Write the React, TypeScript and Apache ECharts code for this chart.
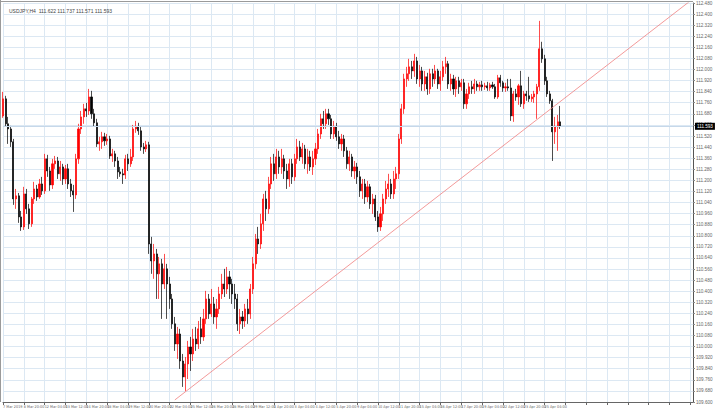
import React, { useEffect, useRef } from "react";
import * as echarts from "echarts";

const SYMBOL = "USDJPY,H4";

const openP = [
  111.665,111.788,111.608,111.571,111.478,111.066,111.088,110.936,110.864,111.102,
  110.994,110.886,111.066,111.138,111.080,111.174,111.124,111.355,111.268,111.167,
  111.319,111.340,111.247,111.297,111.210,111.283,111.174,111.124,111.095,111.355,
  111.571,111.658,111.716,111.701,111.802,111.680,111.615,111.463,111.478,111.514,
  111.485,111.499,111.376,111.391,111.340,111.261,111.247,111.239,111.355,111.319,
  111.369,111.571,111.586,111.557,111.441,111.427,111.456,110.741,110.618,110.669,
  110.525,110.597,110.452,110.561,110.452,110.344,110.164,110.019,110.091,109.896,
  109.781,109.875,109.997,109.947,110.055,110.019,110.128,110.070,110.200,110.344,
  110.236,110.308,110.214,110.272,110.380,110.452,110.416,110.503,110.452,110.380,
  110.344,110.164,110.214,110.185,110.272,110.236,110.416,110.597,110.777,110.741,
  110.886,111.066,110.994,111.174,111.319,111.247,111.369,111.297,111.355,111.268,
  111.210,111.319,111.225,111.355,111.441,111.369,111.427,111.319,111.369,111.297,
  111.355,111.427,111.535,111.644,111.608,111.680,111.644,111.535,111.586,111.514,
  111.463,111.499,111.413,111.319,111.369,111.268,111.297,111.225,111.124,111.174,
  111.080,111.153,111.030,111.066,110.936,110.864,110.958,111.066,111.138,111.174,
  111.102,111.210,111.247,111.499,111.716,111.932,111.969,112.019,111.990,112.062,
  111.932,111.990,111.896,111.947,111.860,111.969,111.932,111.990,111.896,111.947,
  112.019,112.041,111.896,111.932,111.860,111.918,111.875,111.904,111.752,111.824,
  111.875,111.860,111.896,111.875,111.889,111.875,111.882,111.867,111.889,111.875,
  111.802,111.940,111.904,111.867,111.875,111.867,111.665,111.824,111.802,111.882,
  111.752,111.824,111.810,111.788,111.802,111.824,111.875,112.149,112.077,111.918,
  111.824,111.774,111.550,111.586,111.622,
];

const closeP = [
  111.788,111.608,111.571,111.478,111.066,111.088,110.936,110.864,111.102,110.994,
  110.886,111.066,111.138,111.080,111.174,111.124,111.355,111.268,111.167,111.319,
  111.340,111.247,111.297,111.210,111.283,111.174,111.124,111.095,111.355,111.571,
  111.658,111.716,111.701,111.802,111.680,111.615,111.463,111.478,111.514,111.485,
  111.499,111.376,111.391,111.340,111.261,111.247,111.239,111.355,111.319,111.369,
  111.571,111.586,111.557,111.441,111.427,111.456,110.741,110.618,110.669,110.525,
  110.597,110.452,110.561,110.452,110.344,110.164,110.019,110.091,109.896,109.781,
  109.875,109.997,109.947,110.055,110.019,110.128,110.070,110.200,110.344,110.236,
  110.308,110.214,110.272,110.380,110.452,110.416,110.503,110.452,110.380,110.344,
  110.164,110.214,110.185,110.272,110.236,110.416,110.597,110.777,110.741,110.886,
  111.066,110.994,111.174,111.319,111.247,111.369,111.297,111.355,111.268,111.210,
  111.319,111.225,111.355,111.441,111.369,111.427,111.319,111.369,111.297,111.355,
  111.427,111.535,111.644,111.608,111.680,111.644,111.535,111.586,111.514,111.463,
  111.499,111.413,111.319,111.369,111.268,111.297,111.225,111.124,111.174,111.080,
  111.153,111.030,111.066,110.936,110.864,110.958,111.066,111.138,111.174,111.102,
  111.210,111.247,111.499,111.716,111.932,111.969,112.019,111.990,112.062,111.932,
  111.990,111.896,111.947,111.860,111.969,111.932,111.990,111.896,111.947,112.019,
  112.041,111.896,111.932,111.860,111.918,111.875,111.904,111.752,111.824,111.875,
  111.860,111.896,111.875,111.889,111.875,111.882,111.867,111.889,111.875,111.802,
  111.940,111.904,111.867,111.875,111.867,111.665,111.824,111.802,111.882,111.752,
  111.824,111.810,111.788,111.802,111.824,111.875,112.149,112.077,111.918,111.824,
  111.774,111.550,111.586,111.622,111.593,
];

const highP = [
  111.839,111.810,111.658,111.593,111.499,111.138,111.109,110.979,111.153,111.138,
  111.030,111.080,111.189,111.167,111.210,111.225,111.391,111.384,111.297,111.355,
  111.376,111.369,111.340,111.319,111.311,111.319,111.210,111.167,111.391,111.608,
  111.701,111.752,111.759,111.860,111.846,111.716,111.644,111.514,111.550,111.543,
  111.535,111.521,111.427,111.413,111.369,111.297,111.283,111.384,111.391,111.427,
  111.600,111.629,111.615,111.586,111.470,111.485,111.478,110.792,110.741,110.705,
  110.647,110.633,110.669,110.597,110.503,110.380,110.214,110.142,110.128,109.947,
  109.925,110.041,110.070,110.128,110.142,110.185,110.214,110.272,110.402,110.380,
  110.416,110.358,110.344,110.431,110.525,110.561,110.575,110.546,110.489,110.452,
  110.380,110.272,110.257,110.308,110.344,110.452,110.647,110.813,110.864,110.958,
  111.102,111.124,111.225,111.369,111.391,111.427,111.413,111.427,111.384,111.319,
  111.355,111.355,111.391,111.499,111.485,111.470,111.456,111.427,111.413,111.413,
  111.470,111.571,111.680,111.701,111.716,111.716,111.672,111.629,111.615,111.557,
  111.535,111.528,111.441,111.413,111.391,111.340,111.326,111.268,111.210,111.210,
  111.196,111.174,111.102,111.095,110.979,111.008,111.102,111.196,111.247,111.210,
  111.268,111.297,111.535,111.752,111.969,112.019,112.077,112.062,112.113,112.091,
  112.033,112.019,111.990,111.976,112.005,112.005,112.033,112.005,111.990,112.062,
  112.091,112.062,111.969,111.961,111.947,111.947,111.932,111.932,111.860,111.904,
  111.918,111.932,111.918,111.911,111.918,111.904,111.911,111.904,111.911,111.896,
  111.961,111.961,111.918,111.904,111.932,111.932,111.846,111.860,111.896,111.990,
  111.846,111.846,111.947,111.824,111.846,111.896,112.351,112.200,112.106,111.947,
  111.846,111.788,111.658,111.672,111.737,
];

const lowP = [
  111.651,111.586,111.463,111.441,111.023,110.994,110.893,110.835,110.842,110.958,
  110.849,110.864,111.030,111.052,111.066,111.095,111.102,111.225,111.124,111.138,
  111.283,111.210,111.196,111.167,111.174,111.138,111.080,110.972,111.066,111.319,
  111.535,111.608,111.658,111.672,111.644,111.586,111.441,111.413,111.427,111.449,
  111.456,111.355,111.333,111.297,111.210,111.225,111.174,111.210,111.268,111.297,
  111.340,111.543,111.528,111.413,111.391,111.405,110.669,110.525,110.489,110.344,
  110.344,110.200,110.416,110.200,110.272,110.128,109.969,109.911,109.839,109.709,
  109.680,109.766,109.824,109.896,109.969,109.983,110.019,110.041,110.164,110.200,
  110.214,110.164,110.128,110.236,110.344,110.358,110.380,110.344,110.308,110.272,
  110.113,110.091,110.128,110.142,110.164,110.200,110.380,110.561,110.669,110.705,
  110.835,110.907,110.958,111.138,111.196,111.210,111.247,111.247,111.210,111.138,
  111.153,111.174,111.196,111.319,111.340,111.319,111.283,111.247,111.268,111.239,
  111.311,111.391,111.499,111.571,111.571,111.600,111.499,111.499,111.485,111.427,
  111.413,111.369,111.283,111.268,111.225,111.210,111.174,111.080,111.066,111.030,
  111.044,110.994,110.958,110.907,110.828,110.835,110.907,111.030,111.080,111.066,
  111.066,111.138,111.210,111.463,111.680,111.875,111.918,111.932,111.947,111.896,
  111.875,111.846,111.846,111.817,111.824,111.875,111.896,111.860,111.846,111.918,
  111.969,111.860,111.846,111.817,111.802,111.824,111.846,111.716,111.716,111.788,
  111.824,111.824,111.846,111.846,111.846,111.853,111.846,111.846,111.860,111.788,
  111.788,111.875,111.839,111.839,111.846,111.629,111.622,111.774,111.745,111.730,
  111.716,111.774,111.766,111.766,111.759,111.644,111.846,112.048,111.889,111.802,
  111.752,111.340,111.463,111.413,111.571,
];

// price scale of the right axis
const priceMin = 109.6;
const priceMax = 112.48;
const priceStep = 0.08;

// empty slots on the right (chart shift), and the drawn trend line [slot, price]
const futureSlots = 51;
const trendLine = [
  [66, 109.615],
  [264, 112.496],
];

const MONTHS = ["Jan","Feb","Mar","Apr","May","Jun","Jul","Aug","Sep","Oct","Nov","Dec"];

function buildBarTimes(count: number): number[] {
  const out: number[] = [];
  let t = Date.UTC(2019, 2, 7, 12);
  while (out.length < count) {
    const wd = new Date(t).getUTCDay();
    if (wd !== 0 && wd !== 6) out.push(t);
    t += 4 * 3600 * 1000;
  }
  return out;
}

const barCount = openP.length;
const barTimes = buildBarTimes(barCount + futureSlots);
const categories = barTimes.map((t, i) => {
  const d = new Date(t);
  const day = d.getUTCDate();
  const mon = MONTHS[d.getUTCMonth()];
  if (i === 0) return `${day} ${mon} ${d.getUTCFullYear()}`;
  const hh = String(d.getUTCHours()).padStart(2, "0");
  return `${day} ${mon} ${hh}:00`;
});

export default function App() {
  const ref = useRef<HTMLDivElement>(null);

  useEffect(() => {
    if (!ref.current) return;
    const chart = echarts.init(ref.current, undefined, { renderer: "svg" });
    const candles = openP.map((o, i) => [o, closeP[i], lowP[i], highP[i]]);
    const last = barCount - 1;
    const header = `${SYMBOL}  ${openP[last].toFixed(3)} ${highP[last].toFixed(3)} ${lowP[last].toFixed(3)} ${closeP[last].toFixed(3)}`;
    const font = "Liberation Sans";
    const narrow = "'Liberation Sans Narrow', 'DejaVu Sans Condensed', 'Liberation Sans'";

    chart.setOption({
      animation: false,
      backgroundColor: "#ffffff",
      title: {
        text: header,
        left: 4,
        top: 3,
        textStyle: { fontSize: 5, fontWeight: "normal", color: "#444", fontFamily: font },
      },
      grid: { left: 1, right: 24, top: 3, bottom: 8, containLabel: false },
      xAxis: {
        type: "category",
        boundaryGap: false,
        data: categories,
        axisLine: { show: true, lineStyle: { color: "#666", width: 1 } },
        axisTick: { show: true, interval: 7, length: 3, lineStyle: { color: "#666" } },
        axisLabel: {
          interval: 7,
          align: "left",
          margin: 2,
          fontSize: 3.8,
          color: "#666",
          fontFamily: narrow,
          showMinLabel: true,
          hideOverlap: false,
          formatter: (v: string, idx: number) => (idx < barCount ? v : ""),
        },
        splitLine: { show: true, interval: 7, lineStyle: { color: "#dce8f3", width: 1 } },
      },
      yAxis: {
        type: "value",
        position: "right",
        min: priceMin,
        max: priceMax,
        interval: priceStep,
        scale: true,
        axisLine: { show: true, lineStyle: { color: "#555", width: 1 } },
        axisTick: { show: true, length: 2, lineStyle: { color: "#888" } },
        axisLabel: {
          margin: 3,
          fontSize: 4.6,
          color: "#666",
          fontFamily: font,
          formatter: (v: number) => v.toFixed(3),
        },
        splitLine: { show: true, lineStyle: { color: "#dce8f3", width: 1 } },
      },
      graphic: [
        { type: "line", shape: { x1: 0, y1: 1.5, x2: 693, y2: 1.5 }, style: { stroke: "#9a9a9a", lineWidth: 1 } },
        { type: "line", shape: { x1: 0.5, y1: 0, x2: 0.5, y2: 402 }, style: { stroke: "#9a9a9a", lineWidth: 1 } },
      ],
      series: [
        {
          type: "candlestick",
          data: candles,
          barWidth: 1.6,
          itemStyle: {
            color: "#ff0000",
            color0: "#000000",
            borderColor: "#ff0000",
            borderColor0: "#000000",
            borderWidth: 0.7,
          },
          markLine: {
            silent: true,
            symbol: ["none", "none"],
            data: [{ yAxis: closeP[last] }],
            lineStyle: { color: "#c6d8ea", width: 1, type: "solid" },
            label: {
              position: "end",
              distance: 2,
              formatter: () => closeP[last].toFixed(3),
              backgroundColor: "#000000",
              color: "#ffffff",
              fontSize: 4.6,
              fontFamily: font,
              padding: [1, 2, 1, 2],
            },
          },
        },
        {
          type: "line",
          data: trendLine,
          symbol: "none",
          lineStyle: { color: "#f08080", width: 0.8 },
          z: 5,
          clip: true,
        },
      ],
    });
    return () => chart.dispose();
  }, []);

  return (
    <div
      ref={ref}
      style={{ position: "fixed", left: 0, top: 0, width: 717, height: 410, background: "#fff" }}
    />
  );
}
